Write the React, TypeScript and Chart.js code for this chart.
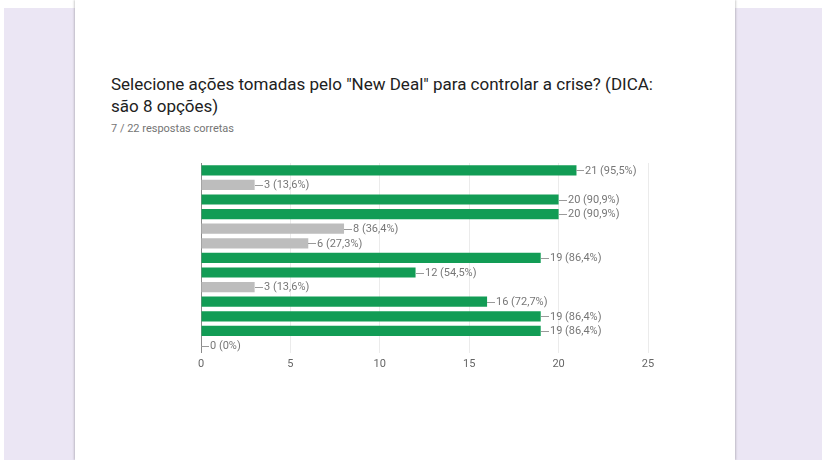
import React, { useEffect, useRef } from "react";
import { Chart, registerables } from "chart.js";

Chart.register(...registerables);

const categories = [
  "Opção 1", "Opção 2", "Opção 3", "Opção 4", "Opção 5", "Opção 6", "Opção 7",
  "Opção 8", "Opção 9", "Opção 10", "Opção 11", "Opção 12", "Opção 13",
];
const values = [21, 3, 20, 20, 8, 6, 19, 12, 3, 16, 19, 19, 0];
const percentLabels = [
  "95,5%", "13,6%", "90,9%", "90,9%", "36,4%", "27,3%", "86,4%",
  "54,5%", "13,6%", "72,7%", "86,4%", "86,4%", "0%",
];
const correct = [true, false, true, true, false, false, true, true, false, true, true, true, false];
const xMax = 25;
const xStep = 5;

const GREEN = "#129c55";
const GREY = "#bdbdbd";

const valueLabels = {
  id: "valueLabels",
  afterDatasetsDraw(chart: any) {
    const ctx = chart.ctx;
    const meta = chart.getDatasetMeta(0);
    ctx.save();
    ctx.font = "11px Roboto";
    ctx.textBaseline = "middle";
    meta.data.forEach((bar: any, i: number) => {
      const x = Math.round(bar.x);
      const y = Math.round(bar.y) + 0.5;
      ctx.strokeStyle = "#9a9a9a";
      ctx.lineWidth = 1;
      ctx.beginPath();
      ctx.moveTo(x, y);
      ctx.lineTo(x + 8, y);
      ctx.stroke();
      ctx.fillStyle = "#777777";
      ctx.fillText(`${values[i]} (${percentLabels[i]})`, x + 9, bar.y + 0.5);
    });
    ctx.restore();
  },
};

function BarChart() {
  const ref = useRef<HTMLCanvasElement>(null);
  useEffect(() => {
    if (!ref.current) return;
    const chart = new Chart(ref.current, {
      type: "bar",
      data: {
        labels: categories,
        datasets: [
          {
            data: values,
            backgroundColor: correct.map((c) => (c ? GREEN : GREY)),
            barPercentage: 0.7,
            categoryPercentage: 1,
          },
        ],
      },
      options: {
        indexAxis: "y",
        responsive: false,
        animation: false,
        devicePixelRatio: 1,
        layout: { padding: { left: 51, right: 42, top: 13, bottom: 4 } },
        plugins: { legend: { display: false }, tooltip: { enabled: false } },
        scales: {
          x: {
            min: 0,
            max: xMax,
            ticks: {
              stepSize: xStep,
              color: "#666666",
              font: { family: "Roboto", size: 11 },
              padding: 5,
            },
            grid: {
              color: (c: any) => (c.tick && c.tick.value === 0 ? "#8a8a8a" : "#ebebeb"),
              drawTicks: false,
            },
            border: { display: false },
          },
          y: {
            display: false,
          },
        },
      },
      plugins: [valueLabels],
    });
    return () => chart.destroy();
  }, []);
  return (
    <canvas
      ref={ref}
      width={540}
      height={230}
      style={{ position: "absolute", left: 150, top: 150, width: 540, height: 230 }}
    />
  );
}

export default function App() {
  return (
    <div
      style={{
        position: "absolute",
        left: 0,
        top: 0,
        width: 822,
        height: 460,
        background: "#ffffff",
        overflow: "hidden",
        fontFamily: "Roboto, sans-serif",
      }}
    >
      <div
        style={{
          position: "absolute",
          left: 4,
          top: 8,
          width: 818,
          height: 452,
          background: "#ebe6f4",
        }}
      />
      <div
        style={{
          position: "absolute",
          left: 75,
          top: 0,
          width: 660,
          height: 460,
          background: "#ffffff",
          boxShadow: "-1px 0 2px rgba(0,0,0,0.18), 1px 0 2px rgba(0,0,0,0.18)",
        }}
      />
      <div
        style={{
          position: "absolute",
          left: 111,
          top: 73,
          width: 600,
          fontSize: 17,
          lineHeight: "22px",
          color: "#212121",
        }}
      >
        Selecione ações tomadas pelo "New Deal" para controlar a crise? (DICA:
        <br />
        são 8 opções)
      </div>
      <div
        style={{
          position: "absolute",
          left: 111,
          top: 122,
          fontSize: 11,
          lineHeight: "13px",
          color: "#757575",
        }}
      >
        7 / 22 respostas corretas
      </div>
      <BarChart />
    </div>
  );
}
